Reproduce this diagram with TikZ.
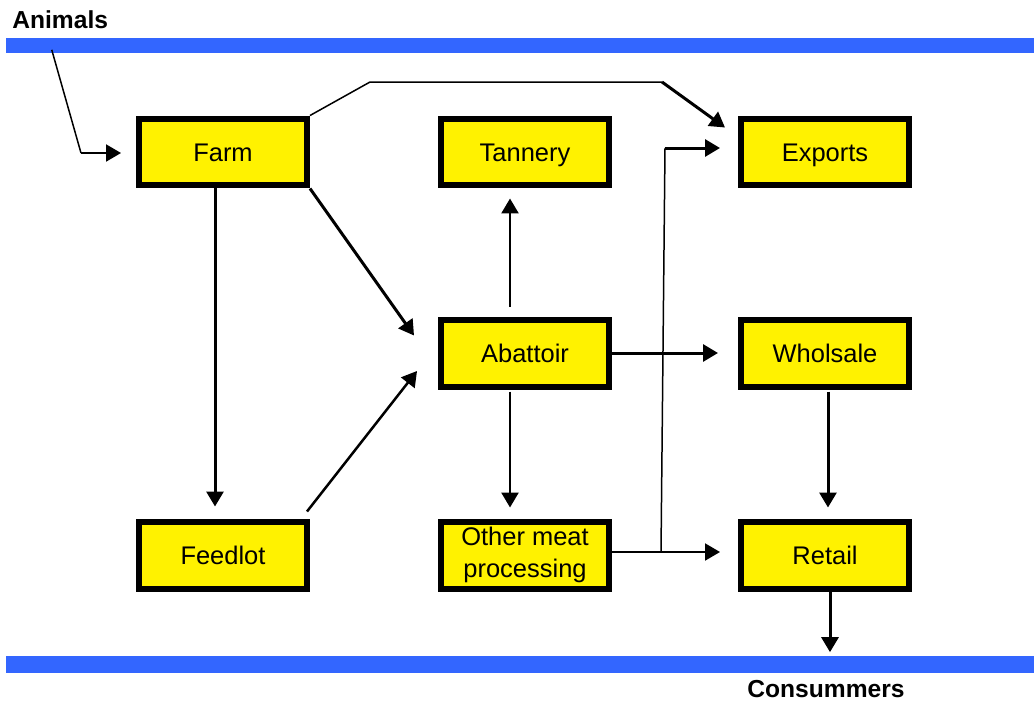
\documentclass[tikz,border=0pt]{standalone}
\usepackage{fontspec}
\setmainfont{Liberation Sans}
\usetikzlibrary{arrows.meta,calc}
\definecolor{barblue}{RGB}{51,102,255}
\tikzset{
  box/.style={draw=black,fill=yellow,line width=0.12cm,minimum width=3.36cm,minimum height=1.34cm,
    inner sep=0pt,align=center,font=\fontsize{14.5}{18}\selectfont},
  onebox/.style={box,text height=10.4pt,text depth=0pt},
  bar/.style={fill=barblue,inner sep=0pt,minimum width=20.56cm},
  arr/.style={-{Triangle[length=0.3cm,width=0.34cm]},line width=0.06cm},
  thinline/.style={line width=0.03cm},
  lbl/.style={font=\fontsize{14}{17}\selectfont\bfseries,inner sep=0pt}
}
\begin{document}
\begin{tikzpicture}[x=0.02cm,y=-0.02cm]
\useasboundingbox (0,0) rectangle (1034,700);
\node[bar,minimum height=0.3cm] (top) at (520,45) {};
\node[bar,minimum height=0.34cm] (bottom) at (520,664) {};
\node[lbl,anchor=base west] (animals) at (12,28) {Animals};
\node[lbl,anchor=base west] (consumers) at (747,697) {Consummers};

\node[onebox] (farm) at (223,152) {Farm};
\node[onebox] (tannery) at (525,152) {Tannery};
\node[onebox] (exports) at (825,152) {Exports};
\node[onebox] (abattoir) at (525,353) {Abattoir};
\node[onebox] (wholsale) at (825,353) {Wholsale};
\node[onebox] (feedlot) at (223,555) {Feedlot};
\node[box] (other) at (525,555) {Other meat\\processing};
\node[onebox] (retail) at (825,555) {Retail};

% animals into the farm
\coordinate (in) at (81,153);
\draw[thinline] ($(top.south west)+(46,-3)$) -- (in);
\draw[arr,line width=0.04cm] (in) -- ($(farm.west)+(-15,1)$);

% farm straight to exports
\coordinate (up) at (370,82);
\coordinate (over) at (662,82);
\draw[thinline] (farm.north east) -- (up) -- (over);
\draw[arr] (over) -- ($(exports.north west)+(-13,12)$);

\draw[arr] ($(farm.south)+(-8,0)$) -- ($(feedlot.north)+(-8,-12)$);
\draw[arr] (farm.south east) -- ($(abattoir.north west)+(-24,19)$);
\draw[arr,line width=0.05cm] ($(feedlot.north east)+(-3,-7)$) -- ($(abattoir.west)+(-21,18)$);
\draw[arr,line width=0.05cm] ($(abattoir.north)+(-15,-10)$) -- ($(tannery.south)+(-15,10)$);
\draw[arr,line width=0.05cm] ($(abattoir.south)+(-15,2)$) -- ($(other.north)+(-15,-11)$);
\draw[arr] (abattoir.east) -- ($(wholsale.west)+(-20,0)$);
\draw[arr] ($(wholsale.south)+(3,2)$) -- ($(retail.north)+(3,-11)$);
\draw[arr] ($(retail.south)+(5,0)$) -- ($(retail.south |- bottom.north)+(5,-3)$);

% other meat processing to retail and exports
\coordinate (split) at (661,552);
\coordinate (rise) at (665,148);
\draw[arr,line width=0.04cm] ($(other.east)+(0,-3)$) -- ($(retail.west)+(-18,-3)$);
\draw[thinline] (split) -- (rise);
\draw[arr] (rise) -- ($(exports.west)+(-18,-4)$);
\end{tikzpicture}
\end{document}
